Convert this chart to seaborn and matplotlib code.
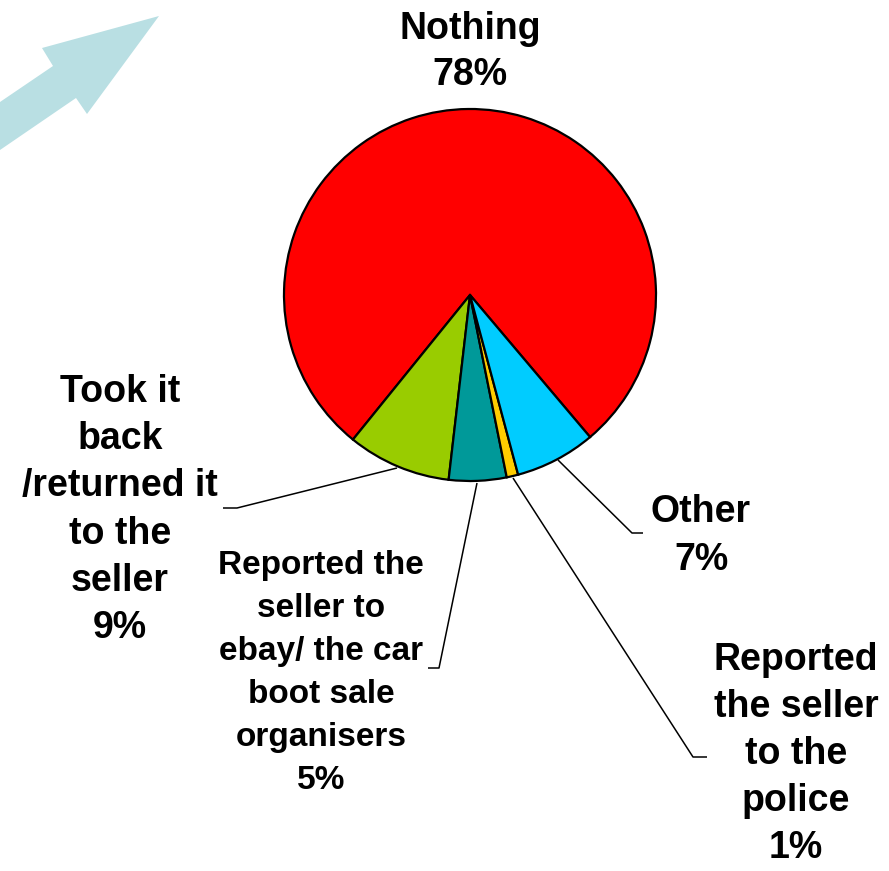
import matplotlib
matplotlib.use("Agg")
import matplotlib.pyplot as plt
from matplotlib.patches import Polygon
import seaborn as sns

# ---- data ----
categories = ["Nothing", "Took it back /returned it to the seller",
              "Reported the seller to ebay/ the car boot sale organisers",
              "Reported the seller to the police", "Other"]
values = [78, 9, 5, 1, 7]
colors = ["#FF0000", "#99CC00", "#009999", "#FFCC00", "#00CCFF"]
label_texts = ["Nothing\n78%",
               "Took it\nback\n/returned it\nto the\nseller\n9%",
               "Reported the\nseller to\nebay/ the car\nboot sale\norganisers\n5%",
               "Reported\nthe seller\nto the\npolice\n1%",
               "Other\n7%"]

sns.set_theme(style="white")
plt.rcParams['font.family'] = ['Liberation Sans', 'DejaVu Sans']

W, H = 889, 871
fig = plt.figure(figsize=(W / 100, H / 100), dpi=100)
ax = fig.add_axes([0, 0, 1, 1])
ax.set_xlim(0, W)
ax.set_ylim(0, H)
ax.set_aspect('equal')
ax.axis('off')

def Y(y):
    return H - y

# decorative arrow
arrow_pts = [(159, 16), (42, 48), (53, 66), (0, 102), (0, 150), (76, 98), (87, 114)]
ax.add_patch(Polygon([(x, Y(y)) for x, y in arrow_pts], closed=True,
                     facecolor="#B9DFE3", edgecolor="none"))

# pie
cx, cy, r = 470, 295, 186
ax.pie(values, colors=colors, startangle=-49.8, counterclock=True,
       center=(cx, Y(cy)), radius=r, frame=True,
       wedgeprops=dict(edgecolor="black", linewidth=1.6))
ax.set_xlim(0, W)
ax.set_ylim(0, H)
ax.axis('off')

# leader lines
leaders = [
    [(397, 468), (237, 508), (223, 508)],
    [(477, 483), (439, 668), (428, 668)],
    [(513, 478), (693, 757), (707, 757)],
    [(558, 460), (632, 533), (643, 533)],
]
for pts in leaders:
    ax.plot([p[0] for p in pts], [Y(p[1]) for p in pts], color="black", lw=1.1,
            solid_capstyle='butt')

# labels
label_pos = [(470, 52, 27, 1.37),
             (120, 510, 27, 1.40),
             (321, 673, 24, 1.50),
             (796, 754, 27, 1.40),
             (701, 536, 27, 1.40)]
for txt, (x, y, fs, ls) in zip(label_texts, label_pos):
    ax.text(x, Y(y), txt, ha='center', va='center', multialignment='center',
            fontsize=fs, fontweight='bold', color='black', linespacing=ls)

fig.savefig("out.png", dpi=100)
